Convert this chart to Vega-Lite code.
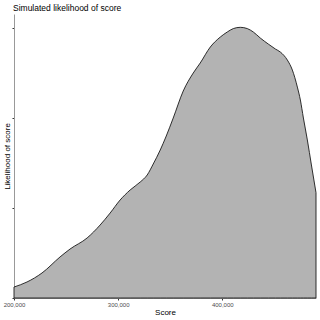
{
  "$schema": "https://vega.github.io/schema/vega-lite/v6.json",
  "width": 302,
  "height": 284,
  "autosize": {"type": "none"},
  "padding": {"left": 14, "top": 14, "right": 4, "bottom": 22},
  "background": "white",
  "title": {
    "text": "Simulated likelihood of score",
    "anchor": "start",
    "frame": "group",
    "font": "Liberation Sans",
    "fontSize": 8.5,
    "fontWeight": "normal",
    "color": "#000000",
    "offset": 2,
    "dx": -1
  },
  "config": {
    "view": {"stroke": null},
    "font": "Liberation Sans"
  },
  "data": {
    "values": [
      {"score": 200000, "likelihood": 0.122},
      {"score": 212500, "likelihood": 0.178},
      {"score": 226900, "likelihood": 0.278},
      {"score": 244200, "likelihood": 0.456},
      {"score": 253800, "likelihood": 0.544},
      {"score": 270200, "likelihood": 0.667},
      {"score": 282700, "likelihood": 0.811},
      {"score": 292300, "likelihood": 0.944},
      {"score": 301900, "likelihood": 1.089},
      {"score": 311500, "likelihood": 1.2},
      {"score": 321200, "likelihood": 1.289},
      {"score": 327900, "likelihood": 1.367},
      {"score": 333700, "likelihood": 1.489},
      {"score": 340400, "likelihood": 1.644},
      {"score": 346200, "likelihood": 1.8},
      {"score": 352900, "likelihood": 2.0},
      {"score": 362500, "likelihood": 2.3},
      {"score": 372100, "likelihood": 2.5},
      {"score": 378800, "likelihood": 2.611},
      {"score": 388500, "likelihood": 2.789},
      {"score": 398100, "likelihood": 2.9},
      {"score": 404800, "likelihood": 2.956},
      {"score": 410600, "likelihood": 2.994},
      {"score": 417300, "likelihood": 3.008},
      {"score": 424000, "likelihood": 2.994},
      {"score": 429800, "likelihood": 2.956},
      {"score": 436500, "likelihood": 2.889},
      {"score": 444200, "likelihood": 2.822},
      {"score": 451000, "likelihood": 2.767},
      {"score": 455800, "likelihood": 2.733},
      {"score": 462500, "likelihood": 2.644},
      {"score": 467300, "likelihood": 2.533},
      {"score": 472100, "likelihood": 2.344},
      {"score": 475000, "likelihood": 2.2},
      {"score": 477900, "likelihood": 2.0},
      {"score": 481700, "likelihood": 1.756},
      {"score": 485600, "likelihood": 1.478},
      {"score": 490000, "likelihood": 1.17}
    ]
  },
  "mark": {
    "type": "area",
    "interpolate": "monotone",
    "fill": "#B3B3B3",
    "stroke": "#1a1a1a",
    "strokeWidth": 0.9
  },
  "encoding": {
    "x": {
      "field": "score",
      "type": "quantitative",
      "scale": {"domain": [200000, 490000], "nice": false, "zero": false},
      "axis": {
        "title": "Score",
        "titleFont": "Liberation Sans",
        "titleFontSize": 8,
        "titleFontWeight": "normal",
        "titleColor": "#000000",
        "titlePadding": 1,
        "values": [200000, 300000, 400000],
        "format": ",d",
        "labelFont": "Liberation Sans",
        "labelFontSize": 6,
        "labelColor": "#4d4d4d",
        "labelPadding": 1,
        "labelFlush": false,
        "tickSize": 2,
        "tickColor": "#333333",
        "domainColor": "#999999",
        "grid": false
      }
    },
    "y": {
      "field": "likelihood",
      "type": "quantitative",
      "scale": {"domain": [0, 3.156], "nice": false},
      "axis": {
        "title": "Likelihood of score",
        "titleFont": "Liberation Sans",
        "titleFontSize": 8,
        "titleFontWeight": "normal",
        "titleColor": "#000000",
        "titlePadding": 0,
        "values": [0, 1, 2, 3],
        "labels": false,
        "tickSize": 2,
        "tickColor": "#333333",
        "domainColor": "#999999",
        "grid": false
      }
    }
  }
}
